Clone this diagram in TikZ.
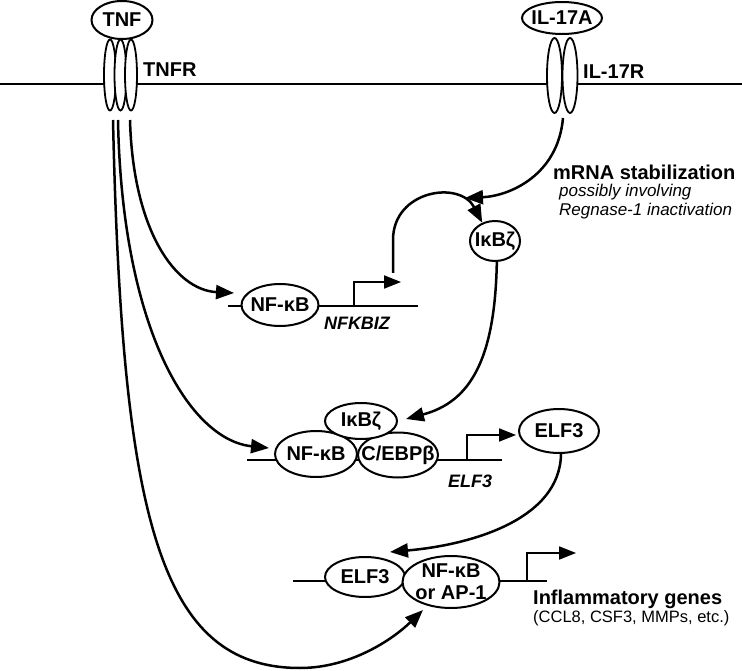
\documentclass[tikz,border=0pt]{standalone}
\usepackage{fontspec}
\setmainfont{Liberation Sans}
\usetikzlibrary{arrows.meta, shapes.geometric}
\tikzset{
  mol/.style   = {draw, ellipse, fill=white, line width=2pt, align=center,
                  inner xsep=-10pt, inner ysep=-5pt,
                  font=\bfseries\fontsize{20}{22}\selectfont},
  rcpt/.style  = {draw, ellipse, fill=white, line width=1.8pt, inner sep=0pt,
                  minimum width=12pt, minimum height=71pt},
  lbl/.style   = {font=\bfseries\fontsize{20}{22}\selectfont, inner sep=0pt},
  gene/.style  = {font=\bfseries\itshape\fontsize{18}{20}\selectfont, inner sep=0pt},
  note/.style  = {font=\itshape\fontsize{17}{19}\selectfont, inner sep=0pt,
                  anchor=west},
  dna/.style   = {line width=1.8pt},
  % signalling arrows, all the same heavy weight
  flow/.style  = {-{Triangle[length=18pt,width=14pt]}, line width=2.5pt},
  tss/.style   = {-{Triangle[length=17pt,width=13pt]}, line width=1.8pt},
}
\begin{document}
\begin{tikzpicture}[x=1pt, y=-1pt]
  \useasboundingbox (0,0) rectangle (742,671);

  %% ---------------- membrane and receptors ----------------
  \draw[dna] (0,84) -- (742,84);
  \node[rcpt] (tnfr1) at (110,75) {};
  \node[rcpt] (tnfr2) at (120.5,75) {};
  \node[rcpt] (tnfr3) at (131,75) {};
  \node[mol, minimum width=61pt, minimum height=38pt] (tnf) at (122,20) {TNF};
  \node[lbl, anchor=west] (tnfrlbl) at (143,70) {TNFR};

  \node[rcpt, minimum width=15pt, minimum height=75pt] (il17r1) at (554.5,75.5) {};
  \node[rcpt, minimum width=15pt, minimum height=75pt] (il17r2) at (570,75.5) {};
  \node[mol, minimum width=80pt, minimum height=32pt] (il17a) at (562,18) {IL-17A};
  \node[lbl, anchor=west] (il17rlbl) at (583,72) {IL-17R};

  %% ---------------- NFKBIZ ----------------
  \draw[dna] (228,306) -- (418,306);
  \coordinate (tss1) at (354,306);
  \draw[tss] (tss1) |- ++(47,-24);
  \node[mol, minimum width=77pt, minimum height=42pt] (nfkb1) at (280,305) {NF-κB};
  \node[gene] (nfkbiz) at (357,323) {NFKBIZ};

  \node[mol, minimum width=50pt, minimum height=40pt] (ikbz1) at (495,241) {IκBζ};
  \node[lbl, anchor=west] (stab) at (553,172) {mRNA stabilization};
  \node[note] (stab2) at (559,192) {possibly involving};
  \node[note] (stab3) at (559,211) {Regnase-1 inactivation};

  %% ---------------- ELF3 ----------------
  \draw[dna] (247,460) -- (502,460);
  \coordinate (tss2) at (467,460);
  \draw[tss] (tss2) |- ++(49,-25);
  \node[mol, minimum width=82pt, minimum height=46pt] (nfkb2) at (316,454) {NF-κB};
  \node[mol, minimum width=80pt, minimum height=45pt] (cebp) at (398,455) {C/EBPβ};
  \node[mol, minimum width=72pt, minimum height=36pt] (ikbz2) at (361,421) {IκBζ};
  \node[gene] (elf3g) at (470,481) {ELF3};
  \node[mol, minimum width=80pt, minimum height=44pt] (elf3) at (559,431) {ELF3};

  %% ---------------- inflammatory genes ----------------
  \draw[dna] (293,581) -- (547,581);
  \coordinate (tss3) at (527,581);
  \draw[tss] (tss3) |- ++(49,-28);
  \node[mol, minimum width=80pt, minimum height=40pt] (elf3b) at (365,577) {ELF3};
  \node[mol, minimum width=97pt, minimum height=52pt] (ap1) at (451,582)
       {NF-κB\\or AP-1};
  \node[lbl, anchor=west] (inflam) at (533,599) {Inflammatory genes};
  \node[anchor=west, inner sep=0pt, font=\fontsize{16.5}{18}\selectfont]
       (inflam2) at (533,618) {(CCL8, CSF3, MMPs, etc.)};

  %% ---------------- signalling ----------------
  \coordinate (t1) at (130,120);
  \coordinate (t2) at (118,120);
  \coordinate (t3) at (113,120);
  \coordinate (nfkb1in) at (234,293);
  \coordinate (nfkb2in) at (269,448);
  \coordinate (ap1in) at (423,610);
  \coordinate (il17out) at (563,118);
  \coordinate (stabin) at (465,198);
  \coordinate (arc0) at (393,273);
  \coordinate (ikbz2in) at (406,419);
  \coordinate (elf3in) at (390,552);

  \draw[flow] (t1) .. controls (133,230) and (175,290) .. (nfkb1in);
  \draw[flow] (t2) .. controls (122,330) and (190,440) .. (nfkb2in);
  \draw[flow] (t3) .. controls (122,520) and (160,668) .. (300,668)
                   .. controls (350,668) and (392,640) .. (ap1in);

  \draw[flow] (il17out) .. controls (558,175) and (510,196) .. (stabin);
  \draw[flow] (arc0) -- (393,240) .. controls (393,190) and (460,180) .. (ikbz1.125);
  \draw[flow] (ikbz1.-85) .. controls (495,360) and (470,402) .. (ikbz2in);
  \draw[flow] (elf3.-85) .. controls (560,520) and (470,545) .. (elf3in);

\end{tikzpicture}
\end{document}
